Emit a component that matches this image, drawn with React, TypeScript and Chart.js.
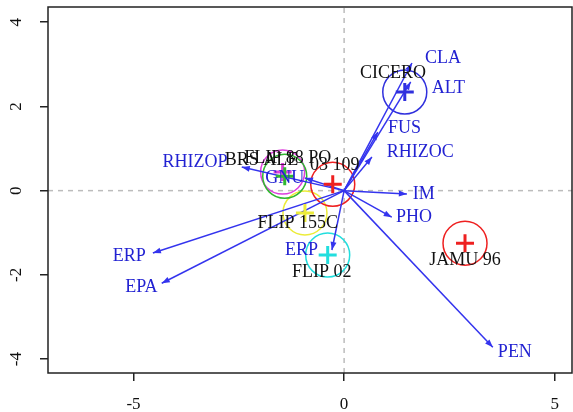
import React, { useEffect, useRef } from 'react';
import { Chart, registerables } from 'chart.js';

Chart.register(...registerables);

// Axis ranges and ticks
const X_RANGE = [-7.03, 5.41];
const Y_RANGE = [-4.33, 4.36];
const X_TICKS = [-5, 0, 5];
const Y_TICKS = [-4, -2, 0, 2, 4];

// Variable arrows (loadings)
const VAR_NAMES = ['CLA', 'ALT', 'FUS', 'RHIZOC', 'RHIZOP', 'IM', 'PHO', 'PEN', 'ERP', 'EPA', 'ERP', 'GNU'];
const VAR_X = [1.61, 1.58, 0.8, 0.66, -2.43, 1.49, 1.13, 3.53, -4.54, -4.33, -0.29, -0.93];
const VAR_Y = [3.03, 2.58, 1.39, 0.8, 0.56, -0.08, -0.63, -3.72, -1.48, -2.2, -1.41, 0.3];
const VAR_LABEL_X = [1.92, 2.08, 1.04, 1.01, -2.77, 1.63, 1.23, 3.65, -4.71, -4.43, -0.62, -1.41];
const VAR_LABEL_Y = [3.15, 2.43, 1.48, 0.91, 0.68, -0.08, -0.63, -3.84, -1.56, -2.29, -1.41, 0.3];
const VAR_LABEL_ALIGN = ['left', 'left', 'left', 'left', 'right', 'left', 'left', 'left', 'right', 'right', 'right', 'center'];

// Genotype centroids
const GEN_NAMES = ['JAMU 96', 'FLIP 02', 'FLIP 155C', '03 109', 'CICERO', 'BRS ALE', 'FLIP 88 PO'];
const GEN_X = [2.87, -0.39, -0.93, -0.27, 1.44, -1.46, -1.41];
const GEN_Y = [-1.25, -1.53, -0.53, 0.15, 2.34, 0.44, 0.34];
const GEN_LABEL_X = [2.87, -0.53, -1.1, -0.22, 1.16, -1.96, -1.34];
const GEN_LABEL_Y = [-1.65, -1.94, -0.77, 0.61, 2.79, 0.72, 0.77];
const GEN_COLORS = ['#ee2020', '#22dede', '#ecec3a', '#ee2020', '#3030dd', '#dd40dd', '#30b830'];

const ARROW_COLOR = '#3434ee';
const TEXT_BLUE = '#2222d2';

export default function App() {
  const ref = useRef<HTMLCanvasElement>(null);

  useEffect(() => {
    document.body.style.margin = '0';
    const canvas = ref.current!;

    const datasets: any[] = [];

    // dashed reference lines
    datasets.push({
      type: 'line',
      data: [{ x: X_RANGE[0], y: 0 }, { x: X_RANGE[1], y: 0 }],
      borderColor: '#bcbcbc',
      borderWidth: 1.5,
      borderDash: [5, 5],
      pointRadius: 0,
      showLine: true,
      order: 10,
    });
    datasets.push({
      type: 'line',
      data: [{ x: 0, y: Y_RANGE[0] }, { x: 0, y: Y_RANGE[1] }],
      borderColor: '#bcbcbc',
      borderWidth: 1.5,
      borderDash: [5, 5],
      pointRadius: 0,
      showLine: true,
      order: 10,
    });

    // circles around genotypes
    datasets.push({
      type: 'scatter',
      data: GEN_X.map((x, i) => ({ x, y: GEN_Y[i] })),
      pointRadius: 22,
      pointStyle: 'circle',
      pointBorderColor: GEN_COLORS,
      pointBackgroundColor: 'rgba(0,0,0,0)',
      pointBorderWidth: 1.5,
      order: 5,
    });

    // arrows
    VAR_X.forEach((x, i) => {
      datasets.push({
        type: 'line',
        data: [{ x: 0, y: 0 }, { x, y: VAR_Y[i] }],
        borderColor: ARROW_COLOR,
        borderWidth: 1.5,
        pointRadius: 0,
        showLine: true,
        order: 3,
      });
    });

    // crosses
    datasets.push({
      type: 'scatter',
      data: GEN_X.map((x, i) => ({ x, y: GEN_Y[i] })),
      pointRadius: 9,
      pointStyle: 'cross',
      pointBorderColor: GEN_COLORS,
      pointBorderWidth: 3,
      order: 1,
    });

    const overlay = {
      id: 'overlay',
      afterDatasetsDraw(chart: any) {
        const { ctx, chartArea, scales } = chart;
        const xs = scales.x;
        const ys = scales.y;
        ctx.save();
        // arrowheads
        const ox = xs.getPixelForValue(0);
        const oy = ys.getPixelForValue(0);
        ctx.fillStyle = ARROW_COLOR;
        VAR_X.forEach((x, i) => {
          const tx = xs.getPixelForValue(x);
          const ty = ys.getPixelForValue(VAR_Y[i]);
          const ang = Math.atan2(ty - oy, tx - ox);
          const len = 8;
          const hw = 3;
          ctx.beginPath();
          ctx.moveTo(tx, ty);
          ctx.lineTo(tx - len * Math.cos(ang) + hw * Math.sin(ang), ty - len * Math.sin(ang) - hw * Math.cos(ang));
          ctx.lineTo(tx - len * Math.cos(ang) - hw * Math.sin(ang), ty - len * Math.sin(ang) + hw * Math.cos(ang));
          ctx.closePath();
          ctx.fill();
        });
        // genotype labels
        ctx.font = '18px "Liberation Serif", "Times New Roman", serif';
        ctx.textBaseline = 'middle';
        ctx.textAlign = 'center';
        ctx.fillStyle = '#111';
        GEN_NAMES.forEach((n, i) => {
          ctx.fillText(n, xs.getPixelForValue(GEN_LABEL_X[i]), ys.getPixelForValue(GEN_LABEL_Y[i]));
        });
        // variable labels
        ctx.fillStyle = TEXT_BLUE;
        VAR_NAMES.forEach((n, i) => {
          ctx.textAlign = VAR_LABEL_ALIGN[i] as CanvasTextAlign;
          ctx.fillText(n, xs.getPixelForValue(VAR_LABEL_X[i]), ys.getPixelForValue(VAR_LABEL_Y[i]));
        });
        // frame
        ctx.strokeStyle = '#222';
        ctx.lineWidth = 1.5;
        ctx.strokeRect(chartArea.left, chartArea.top, chartArea.right - chartArea.left, chartArea.bottom - chartArea.top);
        ctx.restore();
      },
    };

    const tickFont = { family: '"Liberation Serif", "Times New Roman", serif', size: 17 };

    const chart = new Chart(canvas, {
      type: 'scatter',
      data: { datasets },
      options: {
        animation: false,
        responsive: false,
        maintainAspectRatio: false,
        events: [],
        layout: { autoPadding: false, padding: { top: 7, right: 1, left: 0, bottom: 0 } },
        plugins: { legend: { display: false }, tooltip: { enabled: false } },
        scales: {
          x: {
            type: 'linear',
            min: X_RANGE[0],
            max: X_RANGE[1],
            afterBuildTicks: (s: any) => {
              s.ticks = X_TICKS.map((v) => ({ value: v }));
            },
            afterFit: (s: any) => {
              s.height = 39;
              s.paddingLeft = 0;
              s.paddingRight = 0;
            },
            border: { display: false },
            grid: { display: true, drawOnChartArea: false, drawTicks: true, tickLength: 8, color: '#222', lineWidth: 1.5 },
            ticks: { font: tickFont, color: '#111', padding: 13, autoSkip: false, maxRotation: 0 },
          },
          y: {
            type: 'linear',
            min: Y_RANGE[0],
            max: Y_RANGE[1],
            afterBuildTicks: (s: any) => {
              s.ticks = Y_TICKS.map((v) => ({ value: v }));
            },
            afterFit: (s: any) => {
              s.width = 48;
              s.paddingTop = 0;
              s.paddingBottom = 0;
            },
            border: { display: false },
            grid: { display: true, drawOnChartArea: false, drawTicks: true, tickLength: 8, color: '#222', lineWidth: 1.5 },
            ticks: { font: tickFont, color: '#111', padding: 16, autoSkip: false, minRotation: 90, maxRotation: 90, crossAlign: 'center' },
          },
        },
      } as any,
      plugins: [overlay],
    });

    return () => chart.destroy();
  }, []);

  return (
    <div style={{ width: 573, height: 412 }}>
      <canvas ref={ref} width={573} height={412} style={{ width: 573, height: 412, display: 'block' }} />
    </div>
  );
}
